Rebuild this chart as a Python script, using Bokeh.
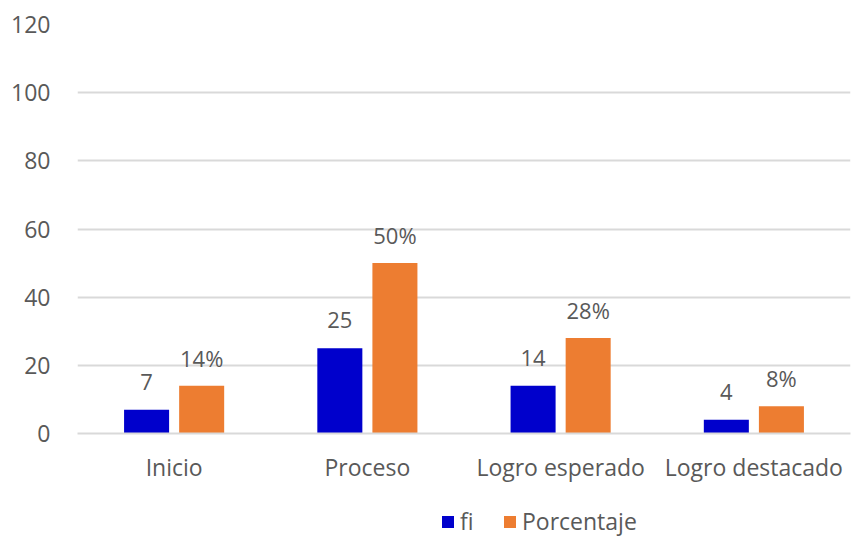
from bokeh.plotting import figure
from bokeh.models import ColumnDataSource, Legend, LegendItem, FactorRange
from bokeh.layouts import column
from bokeh.transform import dodge
from bokeh.core.properties import value
from bokeh.embed import file_html
from bokeh.resources import INLINE

categories = ["Inicio", "Proceso", "Logro esperado", "Logro destacado"]
fi = [7, 25, 14, 4]
porcentaje = [14, 50, 28, 8]
y_ticks = [0, 20, 40, 60, 80, 100, 120]

source = ColumnDataSource(dict(
    cat=categories,
    fi=fi,
    pct=porcentaje,
    fi_lbl=[str(v) for v in fi],
    pct_lbl=[f"{v}%" for v in porcentaje],
))

FONT = "Open Sans"
GRAY = "#595959"
BLUE = "#0000CC"
ORANGE = "#ED7D31"
GRID = "#D9D9D9"

p = figure(x_range=FactorRange(*categories), y_range=(0, 120),
           width=857, height=500, output_backend="svg", toolbar_location=None,
           min_border_left=77, min_border_right=7, min_border_top=24, min_border_bottom=67)
p.outline_line_color = None

p.vbar(x=dodge("cat", -0.1425, range=p.x_range), top="fi", width=0.233, source=source,
       fill_color=BLUE, line_color=None)
p.vbar(x=dodge("cat", 0.1425, range=p.x_range), top="pct", width=0.233, source=source,
       fill_color=ORANGE, line_color=None)

p.text(x=dodge("cat", -0.1425, range=p.x_range), y="fi", text="fi_lbl", source=source,
       text_align="center", text_baseline="alphabetic", y_offset=-28,
       text_font=value(FONT), text_font_size="22px", text_color=GRAY)
p.text(x=dodge("cat", 0.1425, range=p.x_range), y="pct", text="pct_lbl", source=source,
       text_align="center", text_baseline="alphabetic", y_offset=-28,
       text_font=value(FONT), text_font_size="22px", text_color=GRAY)

p.yaxis.ticker = y_ticks
p.yaxis.axis_line_color = None
p.yaxis.major_tick_line_color = None
p.yaxis.minor_tick_line_color = None
p.yaxis.major_label_standoff = 21
p.yaxis.major_label_text_font = FONT
p.yaxis.major_label_text_font_size = "23px"
p.yaxis.major_label_text_color = GRAY

p.xaxis.axis_line_color = GRID
p.xaxis.axis_line_width = 2
p.xaxis.major_tick_line_color = None
p.xaxis.minor_tick_line_color = None
p.xaxis.major_label_standoff = 11
p.xaxis.major_label_text_font = FONT
p.xaxis.major_label_text_font_size = "23px"
p.xaxis.major_label_text_color = GRAY

p.xgrid.grid_line_color = None
p.ygrid.grid_line_color = GRID
p.ygrid.grid_line_width = 2

# legend strip below the chart (frames are aligned by the column layout)
lf = figure(width=857, height=39, output_backend="svg", toolbar_location=None,
            x_axis_type=None, y_axis_type=None, min_border=0,
            x_range=(0, 1), y_range=(0, 1))
lf.outline_line_color = None
lf.grid.visible = False
k1 = lf.vbar(x=[0], top=[0], width=0, fill_color=BLUE, line_color=None)
k2 = lf.vbar(x=[0], top=[0], width=0, fill_color=ORANGE, line_color=None)
legend = Legend(items=[LegendItem(label="fi", renderers=[k1]),
                       LegendItem(label="Porcentaje", renderers=[k2])],
                orientation="horizontal", location=(363, 2),
                label_text_font=FONT, label_text_font_size="23px", label_text_color=GRAY,
                glyph_width=15, glyph_height=15, label_standoff=5, spacing=22,
                border_line_color=None, background_fill_alpha=0, padding=0, margin=0)
lf.add_layout(legend, "center")

layout = column(p, lf, spacing=0)
open("out.html", "w").write(file_html(layout, INLINE))
